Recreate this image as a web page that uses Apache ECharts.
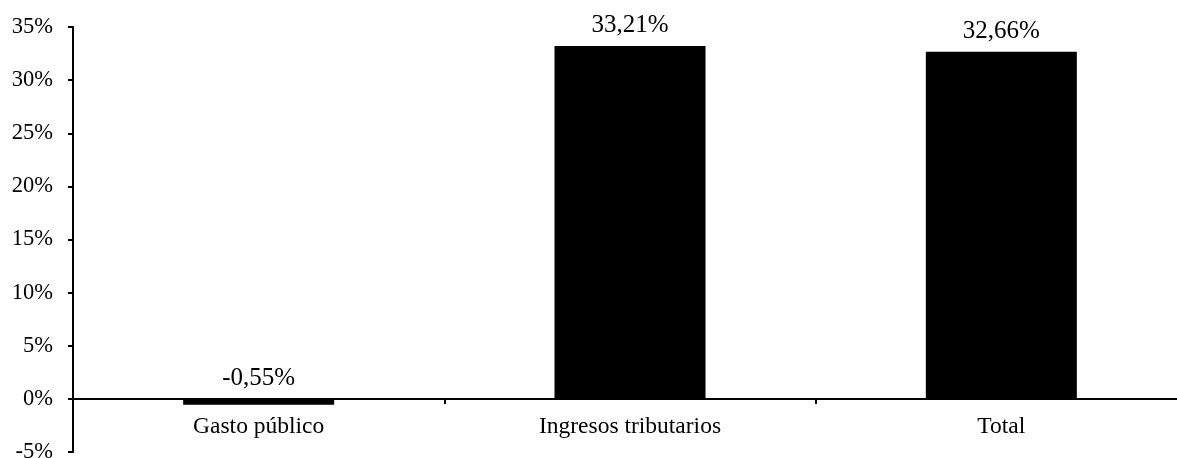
<!DOCTYPE html>
<html>
<head>
<meta charset="utf-8">
<script src="https://cdn.jsdelivr.net/npm/echarts@6/dist/echarts.min.js"></script>
<style>
html,body{margin:0;padding:0;background:#fff;}
#chart{width:1177px;height:458px;}
</style>
</head>
<body>
<div id="chart"></div>
<script>
var categories = ['Gasto público', 'Ingresos tributarios', 'Total'];
var values = [-0.55, 33.21, 32.66];
var yMin = -5, yMax = 35, yStep = 5;

var FONT = '"Liberation Serif", "Times New Roman", serif';
var gridTop = 27, gridBottom = 6, H = 458;
var plotH = H - gridTop - gridBottom;
// distance from grid bottom (yMin) up to the zero line, via the value scale
var zeroOffset = plotH * (0 - yMin) / (yMax - yMin);

var chart = echarts.init(document.getElementById('chart'), null, {renderer: 'canvas'});
chart.setOption({
  animation: false,
  backgroundColor: '#ffffff',
  grid: {left: 73, top: gridTop, bottom: gridBottom, width: 1114, containLabel: false, outerBoundsMode: 'none'},
  xAxis: [{
    type: 'category',
    data: categories,
    axisLine: {onZero: true, lineStyle: {color: '#000', width: 2}},
    axisTick: {show: true, length: 5, lineStyle: {color: '#000', width: 2}},
    axisLabel: {show: false}
  }, {
    type: 'category',
    data: categories,
    position: 'bottom',
    offset: -zeroOffset,
    axisLine: {show: false, onZero: false},
    axisTick: {show: false},
    axisLabel: {color: '#000', fontFamily: FONT, fontSize: 23.5, margin: 16, hideOverlap: false}
  }],
  yAxis: {
    type: 'value',
    min: yMin, max: yMax, interval: yStep,
    splitLine: {show: false},
    axisLine: {show: true, lineStyle: {color: '#000', width: 2}},
    axisTick: {show: true, length: 5, lineStyle: {color: '#000', width: 2}},
    axisLabel: {color: '#000', fontFamily: FONT, fontSize: 22.5, margin: 20,
      formatter: function (v) { return v + '%'; }}
  },
  series: [{
    type: 'bar',
    xAxisIndex: 0,
    data: values,
    barWidth: 151,
    itemStyle: {color: '#000'},
    label: {
      show: true, position: 'top', distance: 8,
      color: '#000', fontFamily: FONT, fontSize: 25,
      formatter: function (p) { return p.value.toFixed(2).replace('.', ',') + '%'; }
    }
  }]
});
</script>
</body>
</html>
